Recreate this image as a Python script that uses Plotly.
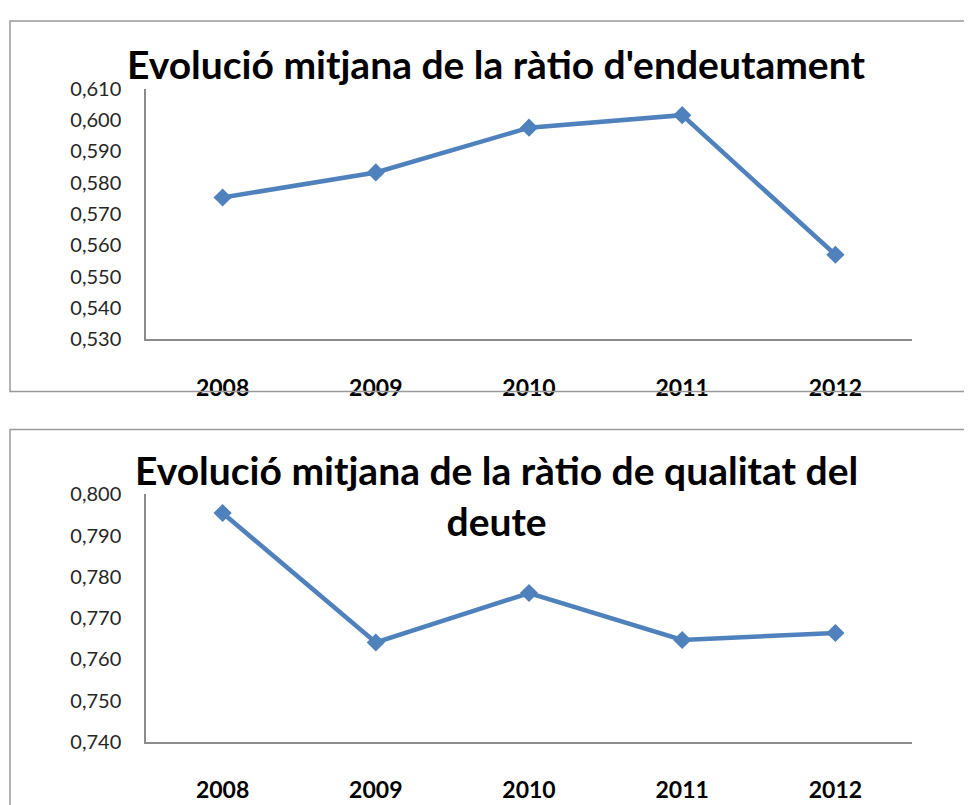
import plotly.graph_objects as go

years = ["2008", "2009", "2010", "2011", "2012"]
endeutament = [0.5753, 0.5833, 0.5976, 0.6016, 0.5570]
qualitat = [0.7955, 0.7641, 0.7761, 0.7647, 0.7664]

title1 = "Evolució mitjana de la ràtio d'endeutament"
title2 = "Evolució mitjana de la ràtio de qualitat del<br>deute"

W, H = 972, 805
OFF = 8  # default body margin of the page


def px(x):
    return (x - OFF) / W


def py(y):
    return 1 - (y - OFF) / H


LINE = "#4F81BD"
AX = "#8C8C8C"
FONT = "Lato"

fig = go.Figure()
fig.add_trace(go.Scatter(x=years, y=endeutament, mode="lines+markers",
                         line=dict(color=LINE, width=4.5),
                         marker=dict(symbol="diamond", size=14, color=LINE),
                         xaxis="x", yaxis="y", showlegend=False))
fig.add_trace(go.Scatter(x=years, y=qualitat, mode="lines+markers",
                         line=dict(color=LINE, width=4.5),
                         marker=dict(symbol="diamond", size=14, color=LINE),
                         xaxis="x2", yaxis="y2", showlegend=False))

xcommon = dict(type="category", showline=True, linecolor=AX, linewidth=1.5,
               showgrid=False, zeroline=False, ticks="outside", ticklen=27,
               tickcolor="rgba(0,0,0,0)", range=[-0.5, 4.5],
               tickfont=dict(family=FONT, size=23, color="black", weight="bold"))
ycommon = dict(showline=True, linecolor=AX, linewidth=1.5, showgrid=False,
               zeroline=False, ticks="outside", ticklen=19,
               tickcolor="rgba(0,0,0,0)", tickformat=".3f",
               tickfont=dict(family=FONT, size=20, color="#262626"))

fig.update_layout(
    width=W, height=H, margin=dict(l=0, r=0, t=0, b=0),
    paper_bgcolor="white", plot_bgcolor="white", separators=",.",
    xaxis=dict(domain=[px(146), px(912)], anchor="y", **xcommon),
    yaxis=dict(domain=[py(336), py(78)], anchor="x", range=[0.530, 0.610],
               dtick=0.01, **ycommon),
    xaxis2=dict(domain=[px(146), px(912)], anchor="y2", **xcommon),
    yaxis2=dict(domain=[py(751), py(496)], anchor="x2", range=[0.740, 0.800],
                dtick=0.01, **ycommon),
    annotations=[
        dict(text=title1, x=px(496), y=py(52), xref="paper", yref="paper",
             showarrow=False, xanchor="center", yanchor="middle",
             font=dict(family=FONT, size=39, color="black", weight="bold")),
        dict(text=title2, x=px(496), y=py(497), xref="paper", yref="paper",
             showarrow=False, xanchor="center", yanchor="middle",
             font=dict(family=FONT, size=39, color="black", weight="bold")),
    ],
    shapes=[
        dict(type="rect", xref="paper", yref="paper", x0=px(10), x1=px(1000),
             y0=py(390), y1=py(8), line=dict(color="#9A9A9A", width=1.5)),
        dict(type="rect", xref="paper", yref="paper", x0=px(10), x1=px(1000),
             y0=py(840), y1=py(429), line=dict(color="#9A9A9A", width=1.5)),
    ],
)

fig.write_html("out.html")
